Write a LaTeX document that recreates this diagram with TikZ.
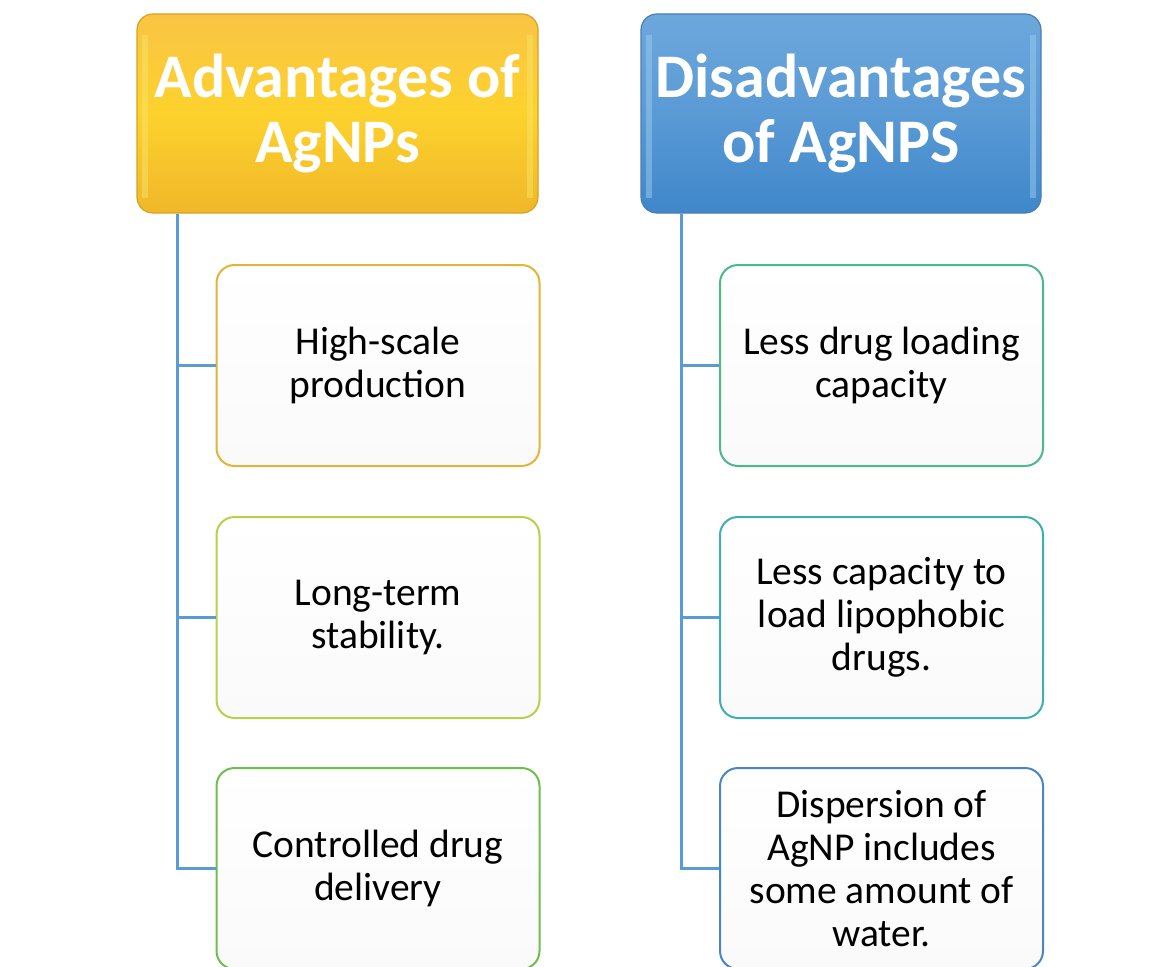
\documentclass[tikz,border=0pt]{standalone}
\usepackage{fontspec}
\setmainfont{Carlito}
\definecolor{conn}{HTML}{5B9BD5}
\definecolor{ytop}{HTML}{F9C445}
\definecolor{ymid}{HTML}{FDD22C}
\definecolor{ybot}{HTML}{F0B72A}
\definecolor{yedge}{HTML}{D6A322}
\definecolor{ylite}{HTML}{F6E46A}
\definecolor{btop}{HTML}{6DA8DC}
\definecolor{bmid}{HTML}{5A9AD5}
\definecolor{bbot}{HTML}{3F87CA}
\definecolor{bedge}{HTML}{4A7EB6}
\definecolor{blite}{HTML}{9CCBEE}
\definecolor{cA}{HTML}{E2B43A}
\definecolor{cB}{HTML}{B8D04A}
\definecolor{cC}{HTML}{6CBE4F}
\definecolor{cD}{HTML}{4DB88C}
\definecolor{cE}{HTML}{3FB0B2}
\definecolor{cF}{HTML}{4C86C2}
\begin{document}
\begin{tikzpicture}[x=1pt,y=-1pt,
  header/.style={rectangle, rounded corners=16pt, minimum height=199pt, text=white,
     font=\fontsize{62}{65}\selectfont\bfseries, align=center, inner sep=0pt, line width=1.2pt},
  child/.style={rectangle, rounded corners=18pt, minimum width=323pt, minimum height=201pt,
     font=\fontsize{39.5}{43}\selectfont, align=center, inner sep=0pt, line width=2pt,
     top color=white, bottom color=black!2},
  bevel/.style={line width=6pt, opacity=0.5},
  connline/.style={draw=conn, line width=3pt}]
\useasboundingbox (0,0) rectangle (1164,966);
\fill[white] (0,0) rectangle (1164,966);
\begin{scope}
\clip (0,0) rectangle (1164,966);
% headers
\node[header, minimum width=401pt, draw=yedge, top color=ytop, bottom color=ybot, middle color=ymid] (hl) at (337.5,113.5) {};
\draw[bevel, ylite] ([xshift=9pt,yshift=-22pt]hl.north west) -- ([xshift=9pt,yshift=16pt]hl.south west);
\draw[bevel, ylite] ([xshift=-9pt,yshift=-22pt]hl.north east) -- ([xshift=-9pt,yshift=16pt]hl.south east);
\node[header, minimum width=401pt, fill=none] at (hl.center) {Advantages of\\AgNPs};
\node[header, minimum width=400pt, draw=bedge, top color=btop, bottom color=bbot, middle color=bmid] (hr) at (841,113.5) {};
\draw[bevel, blite] ([xshift=9pt,yshift=-22pt]hr.north west) -- ([xshift=9pt,yshift=16pt]hr.south west);
\draw[bevel, blite] ([xshift=-9pt,yshift=-22pt]hr.north east) -- ([xshift=-9pt,yshift=16pt]hr.south east);
\node[header, minimum width=400pt, fill=none] at (hr.center) {Disadvantages\\of AgNPS};
% children left
\node[child, draw=cA] (l1) at (378,365.5) {High-scale\\production};
\node[child, draw=cB] (l2) at (378,617.5) {Long-term\\stability.};
\node[child, draw=cC] (l3) at (378,868.5) {Controlled drug\\delivery};
% children right
\node[child, draw=cD] (r1) at (881.5,365.5) {Less drug loading\\capacity};
\node[child, draw=cE] (r2) at (881.5,617.5) {Less capacity to\\load lipophobic\\drugs.};
\node[child, draw=cF] (r3) at (881.5,868.5) {Dispersion of\\AgNP includes\\some amount of\\water.};
% connectors
\coordinate (lx) at (177,0);
\coordinate (rx) at (681,0);
\draw[connline] (hl.south -| lx) |- (l3.west);
\draw[connline] (l1.west) -- (l1.west -| lx);
\draw[connline] (l2.west) -- (l2.west -| lx);
\draw[connline] (hr.south -| rx) |- (r3.west);
\draw[connline] (r1.west) -- (r1.west -| rx);
\draw[connline] (r2.west) -- (r2.west -| rx);
\end{scope}
\end{tikzpicture}
\end{document}
